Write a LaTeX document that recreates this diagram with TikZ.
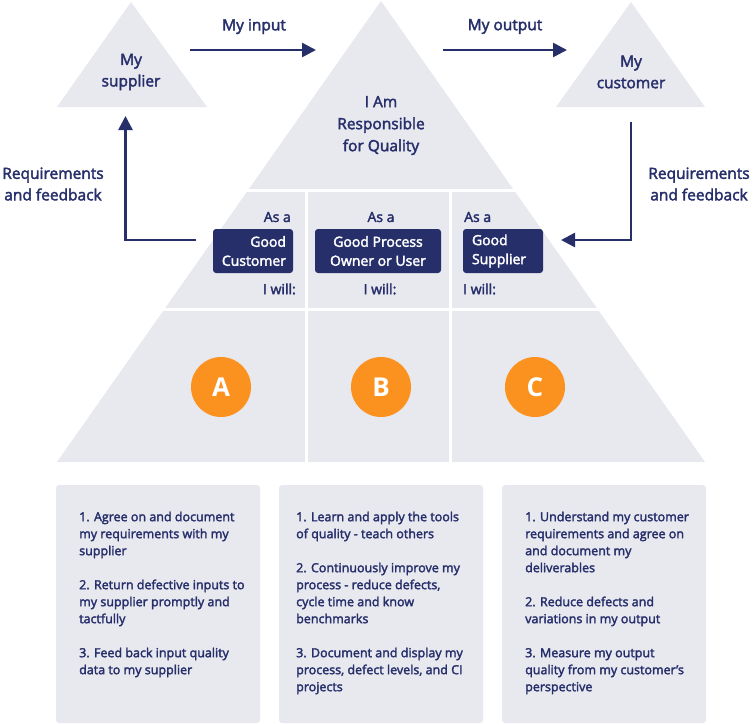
\documentclass[tikz,border=0pt]{standalone}
\usepackage{fontspec}
\setmainfont{Open Sans}
\newfontfamily\semib{Open Sans}[FakeBold=2.5]
\usetikzlibrary{arrows.meta}
\definecolor{navy}{HTML}{272F6B}
\definecolor{pale}{HTML}{E8E9EF}
\definecolor{orng}{HTML}{FB921F}
\tikzset{
  lbl/.style={text=navy, align=center, inner sep=0pt, font=\semib\fontsize{15.5}{21.5}\selectfont},
  small/.style={text=navy, inner sep=0pt, font=\semib\fontsize{14}{19}\selectfont},
  arr/.style={draw=navy, line width=2.5pt, -{Triangle[length=14pt,width=14pt]}},
  dbox/.style={fill=navy, text=white, rounded corners=3pt, minimum height=44pt, inner ysep=0pt, font=\semib\fontsize{14}{19}\selectfont},
  circ/.style={circle, fill=orng, text=white, minimum size=60pt, inner sep=0pt, font=\fontsize{26}{26}\selectfont\bfseries},
  pbox/.style={fill=pale, rounded corners=3pt, minimum width=204pt, minimum height=238pt, inner sep=0pt},
  btxt/.style={text=navy, align=left, inner sep=0pt, anchor=north west, font=\semib\fontsize{12.5}{17}\selectfont},
  gap/.style={draw=white, line width=3pt}
}
\begin{document}
\begin{tikzpicture}[x=1pt,y=-1pt]
\useasboundingbox (0,0) rectangle (754,724);
% triangles
\fill[pale] (131,2) -- (207,107) -- (57,107) -- cycle;
\fill[pale] (631,2) -- (705,107) -- (556,107) -- cycle;
\fill[pale] (381,1) -- (705,462) -- (57,462) -- cycle;
\draw[gap] (150,190.5) -- (620,190.5);
\draw[gap] (100,309.5) -- (660,309.5);
\draw[gap] (306,190) -- (306,464);
\draw[gap] (450,190) -- (450,464);
% labels
\node[lbl] (sup) at (131,72) {My\\supplier};
\node[lbl] (cus) at (631,72) {My\\customer};
\node[lbl, font=\semib\fontsize{15.5}{22}\selectfont] (resp) at (381,125.5) {I Am\\Responsible\\for Quality};
\node[lbl] (inp) at (254,26.5) {My input};
\node[lbl] (outp) at (505,26.5) {My output};
\node[lbl] (reqL) at (53,184) {Requirements\\and feedback};
\node[lbl] (reqR) at (699,184) {Requirements\\and feedback};
% arrows
\coordinate (a1) at (190,50); \coordinate (a2) at (316,50);
\coordinate (a3) at (443,50); \coordinate (a4) at (567,50);
\coordinate (l1) at (196,240); \coordinate (l2) at (125.5,116);
\coordinate (r1) at (631,122); \coordinate (r2) at (561,240);
\draw[arr] (a1) -- (a2);
\draw[arr] (a3) -- (a4);
\draw[arr] (l1) -| (l2);
\draw[arr] (r1) |- (r2);
% role boxes
\node[dbox, text width=66pt, inner xsep=7pt, align=right] (gc) at (253,251) {Good\\Customer};
\node[dbox, minimum width=126pt, align=center] (gp) at (378,251) {Good Process\\Owner or User};
\node[dbox, text width=62pt, inner xsep=9pt, align=left] (gs) at (503,251) {Good\\Supplier};
\node[small, anchor=east] (asA) at (291,217) {As a};
\node[small] (asB) at (381,217) {As a};
\node[small, anchor=west] (asC) at (464,217) {As a};
\node[small, anchor=east] (wA) at (296,289) {I will:};
\node[small] (wB) at (380,289) {I will:};
\node[small, anchor=west] (wC) at (463,289) {I will:};
% circles
\node[circ] (cA) at (221,387) {A};
\node[circ] (cB) at (381,387) {B};
\node[circ] (cC) at (535,387) {C};
% bottom boxes
\node[pbox] (bA) at (158,604) {};
\node[pbox] (bB) at (381,604) {};
\node[pbox] (bC) at (604,604) {};
\node[btxt] (tA) at (79,511.5) {1. Agree on and document\\my requirements with my\\supplier\\[17pt]2. Return defective inputs to\\my supplier promptly and\\tactfully\\[17pt]3. Feed back input quality\\data to my supplier};
\node[btxt] (tB) at (296,511.5) {1. Learn and apply the tools\\of quality - teach others\\[17pt]2. Continuously improve my\\process - reduce defects,\\cycle time and know\\benchmarks\\[17pt]3. Document and display my\\process, defect levels, and CI\\projects};
\node[btxt] (tC) at (525,511.5) {1. Understand my customer\\requirements and agree on\\and document my\\deliverables\\[17pt]2. Reduce defects and\\variations in my output\\[17pt]3. Measure my output\\quality from my customer’s\\perspective};
\end{tikzpicture}
\end{document}
